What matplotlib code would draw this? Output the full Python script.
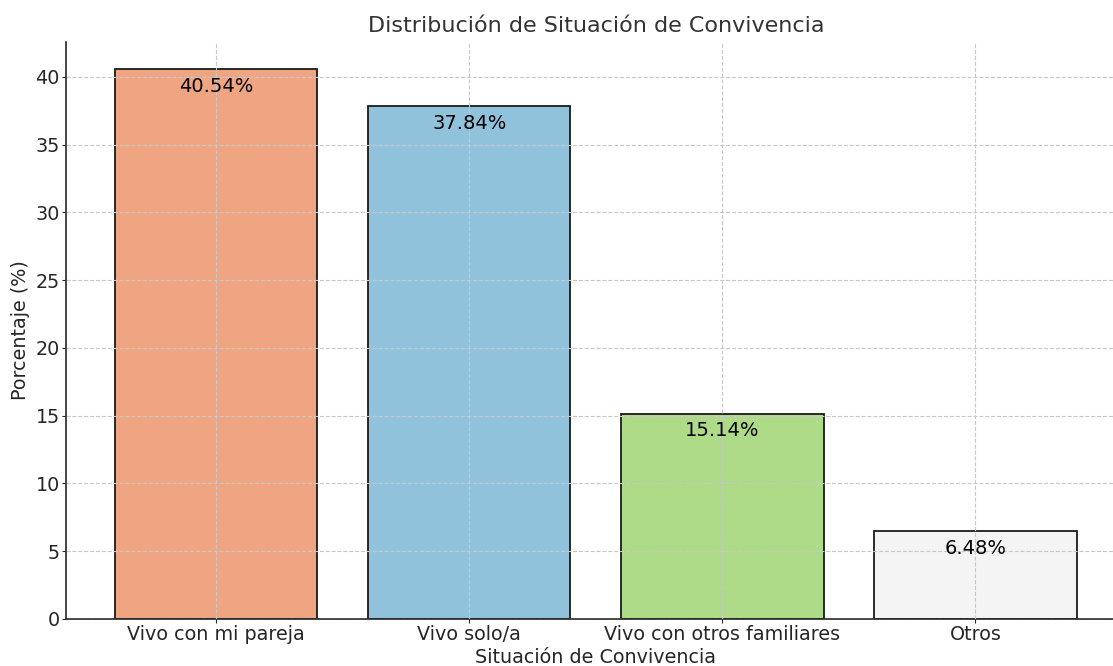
import numpy as np
import matplotlib
matplotlib.use('Agg')
import matplotlib.pyplot as plt

categorias = ['Vivo con mi pareja', 'Vivo solo/a', 'Vivo con otros familiares', 'Otros']
porcentajes = [40.54, 37.84, 15.14, 6.48]
colores = ['#EFA582', '#91C2DB', '#AEDB87', '#F4F4F4']

fig = plt.figure(figsize=(11.13, 6.66), dpi=100)
ax = fig.add_axes([0.0593, 0.0706, 0.952, 0.8664])

x = np.arange(len(categorias))
bars = ax.bar(x, porcentajes, color=colores, edgecolor='#1a1a1a', linewidth=1.3, width=0.8, zorder=2)

# labels just inside the top of each bar
for b, v in zip(bars, porcentajes):
    ax.text(b.get_x() + b.get_width() / 2, v - 1.25, f'{v:.2f}%',
            ha='center', va='center', fontsize=14, color='black', zorder=4)

ax.set_xticks(x)
ax.set_xticklabels(categorias)
ax.set_ylim(0, 42.57)
ax.set_xlim(-0.593, 3.593)
ax.grid(True, linestyle='--', color='#c8c8c8', linewidth=0.8, zorder=3)
ax.set_axisbelow(False)

ax.spines['top'].set_visible(False)
ax.spines['right'].set_visible(False)
for s in ['left', 'bottom']:
    ax.spines[s].set_color('#262626')
    ax.spines[s].set_linewidth(1.2)
ax.tick_params(labelsize=13.8, colors='#262626', length=3, pad=1.5)

ax.set_title('Distribución de Situación de Convivencia', fontsize=16, color='#333333', pad=7)
ax.set_xlabel('Situación de Convivencia', fontsize=13.8, color='#262626', labelpad=3)
ax.set_ylabel('Porcentaje (%)', fontsize=13.8, color='#262626', labelpad=4)

plt.savefig('out.png', dpi=100)
